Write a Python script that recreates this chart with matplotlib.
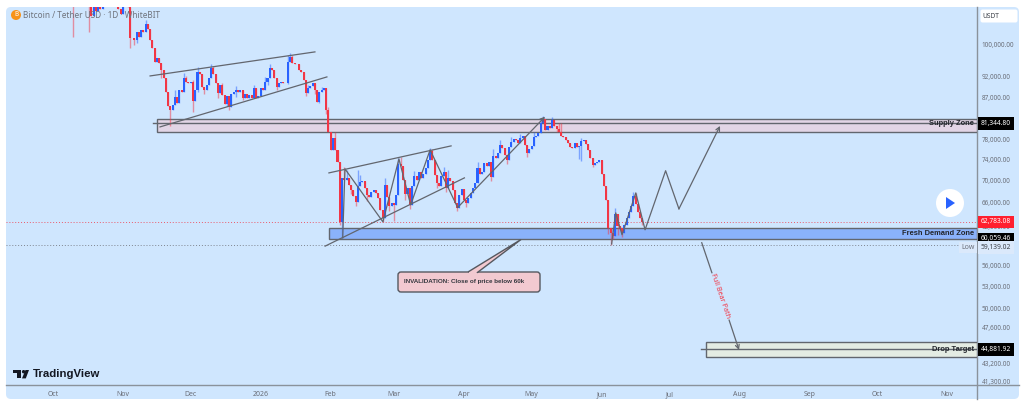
import numpy as np
import matplotlib as mpl
mpl.use('Agg')
import matplotlib.pyplot as plt
from matplotlib.patches import Circle, FancyBboxPatch, Polygon, Rectangle

plt.rcParams['font.family'] = ['Noto Sans', 'DejaVu Sans']

# daily closes in thousands of USDT, first candle is 10 Oct 2025
first_day = 9
first_open = 113.0
closes = [
    112.0, 111.5, 113.0, 112.0, 115.0, 116.0, 113.0, 111.0, 108.0, 110.5,
    109.5, 112.0, 110.0, 113.0, 113.0, 114.0, 116.0, 113.0, 115.0, 112.0,
    110.0, 108.5, 111.0, 111.0, 110.5, 101.9, 101.9, 101.3, 103.5, 102.2,
    104.0, 103.5, 105.7, 104.3, 101.3, 99.2, 95.6, 96.6, 95.4, 93.6,
    91.7, 88.4, 85.2, 84.3, 85.4, 87.2, 85.9, 88.8, 88.4, 91.7,
    90.7, 90.5, 90.7, 86.3, 88.8, 93.2, 92.7, 89.5, 88.8, 90.0,
    91.7, 94.1, 92.7, 90.5, 88.1, 90.0, 87.7, 85.6, 87.5, 85.0,
    87.9, 88.4, 88.8, 88.4, 88.9, 87.0, 87.9, 87.0, 87.7, 87.0,
    89.3, 87.0, 87.5, 89.3, 88.8, 90.7, 91.7, 94.1, 93.6, 91.7,
    89.5, 90.5, 90.7, 90.6, 90.5, 95.6, 96.9, 95.4, 95.2, 95.1,
    93.6, 93.2, 91.2, 88.1, 89.3, 89.8, 90.5, 88.8, 86.1, 88.4,
    88.8, 89.3, 84.3, 79.6, 75.9, 78.3, 75.9, 73.5, 62.8, 70.5,
    70.1, 70.5, 69.2, 68.3, 67.2, 66.2, 69.0, 69.8, 70.0, 68.7,
    67.4, 67.1, 67.9, 68.3, 67.8, 66.9, 64.8, 63.4, 69.2, 67.1,
    65.5, 66.0, 65.6, 67.4, 73.1, 72.8, 70.1, 67.6, 68.7, 65.6,
    69.0, 70.9, 70.1, 71.6, 70.5, 71.2, 72.4, 73.9, 75.7, 73.9,
    71.0, 69.6, 69.0, 70.9, 71.6, 68.7, 70.5, 70.0, 68.3, 66.0,
    65.1, 67.4, 68.5, 66.5, 66.0, 66.9, 67.8, 68.7, 69.6, 72.4,
    71.2, 71.6, 73.3, 72.8, 73.5, 70.7, 74.7, 74.3, 75.3, 76.9,
    76.3, 74.9, 73.9, 76.5, 77.5, 78.1, 77.9, 77.3, 78.3, 78.7,
    76.9, 75.3, 76.1, 76.7, 78.5, 78.7, 79.3, 81.5, 82.3, 80.0,
    80.9, 80.3, 82.1, 80.7, 80.2, 79.6, 78.7, 78.5, 77.9, 77.3,
    76.5, 76.3, 77.3, 76.5, 76.7, 77.7, 77.9, 77.1, 75.9, 74.3,
    72.9, 73.3, 73.5, 73.9, 71.2, 69.0, 66.5, 61.8, 61.0, 60.5,
    64.1, 62.1, 61.8, 60.9, 62.3, 63.5, 64.5, 65.5, 67.2, 65.8,
    64.5, 63.4, 62.78308,
]
# the wicks that stick out, day -> price
wick_high = {
    13: 118, 16: 114, 25: 118, 33: 114, 34: 110.5, 41: 106.8, 47: 96.6, 54: 88.8, 58: 93.0,
    59: 92.2, 62: 91.2, 64: 94.4, 70: 95.0, 71: 94.5, 75: 90.5, 81: 89.8, 89: 90.0, 94: 92.0,
    96: 95.0, 104: 97.4, 105: 97.9, 106: 97.4, 113: 90.0, 119: 89.5, 122: 85.0, 125: 79.5,
    129: 72.5, 130: 72.0, 135: 72.0, 136: 71.0, 147: 70.5, 153: 74.2, 154: 74.5, 160: 71.8,
    167: 76.2, 168: 76.0, 173: 72.6, 175: 72.0, 188: 73.5, 195: 76.0, 198: 77.8, 203: 78.5,
    207: 79.2, 213: 79.5, 216: 82.4, 217: 83.0, 221: 82.8, 224: 81.5, 225: 81.5, 234: 78.2,
    249: 65.2, 257: 68.0, 258: 67.8,
}
wick_low = {
    9: 102.2, 16: 103.5, 34: 99.2, 36: 100.0, 37: 100.5, 48: 91.7, 52: 80.8, 53: 84.5, 62: 83.9,
    64: 88.4, 67: 87.9, 73: 87.0, 77: 85.2, 78: 84.3, 81: 87.3, 84: 86.5, 95: 89.9, 99: 88.8,
    104: 90.3, 112: 87.5, 116: 87.9, 118: 85.8, 121: 83.5, 127: 62.2, 128: 60.2, 132: 67.5,
    134: 65.4, 139: 66.4, 146: 62.8, 149: 64.6, 151: 63.0, 156: 66.5, 158: 64.9, 170: 68.7,
    174: 68.0, 179: 64.6, 183: 65.3, 194: 70.0, 201: 73.2, 210: 74.5, 223: 79.6, 233: 74.0,
    234: 73.7, 239: 72.5, 246: 60.8, 247: 59.13902, 248: 60.0, 250: 60.7, 252: 60.4, 261: 62.3,
}

price_ticks = [100000, 92000, 87000, 82000, 78000, 74000, 70000, 66000, 62000,
               56000, 53000, 50000, 47600, 45300, 43200, 41300]
month_days = [0, 31, 61, 92, 123, 151, 182, 212, 243, 273, 304, 335, 365, 396]
month_labels = ["Oct", "Nov", "Dec", "2026", "Feb", "Mar", "Apr", "May", "Jun", "Jul", "Aug", "Sep", "Oct", "Nov"]

supply_line = 81344.80
demand_line = 60059.46
drop_line = 44881.92
last_price = closes[-1] * 1000
low_price = 59139.02

# drawings: days and prices of each trend line and path
wedge_lines = [
    ([43.0, 116.0], [92180, 98200]),
    ([47.4, 121.3], [80610, 91940]),
    ([122.2, 176.3], [71420, 76680]),
    ([120.5, 182.2], [58900, 70490]),
]
swing_days = [128.3, 129.3, 146.1, 153.2, 158.4, 167.0, 179.2, 217.9]
swing_prices = [60210, 72180, 62790, 74100, 65650, 75880, 65200, 82810]
bull_days = [247.4, 249.2, 252.0, 258.1, 262.2, 271.3, 277.2, 295.4]
bull_prices = [59240, 64290, 60690, 67760, 61490, 71830, 64970, 80820]
bear_days = [287.3, 291.8, 299.4, 303.8]
bear_prices = [59430, 54920, 48500, 44820]

PANEL = "#cfe6fe"
RED = "#f23645"
BLUE = "#2962ff"
LINE = "#62666e"
TEXT = "#6a6e78"
BOLD = "Liberation Sans"


def fig_ax(fig):
    # whole-figure axes counted in pixels, y going down
    a = fig.add_axes([0, 0, 1, 1], facecolor = "none")
    a.set_xlim(0, 1024)
    a.set_ylim(404, 0)
    a.axis("off")
    return a


def price_tag(ax, price, bg, fg = "white", dy = 0):
    ax.annotate(f"{price:,.2f}", xy = (1.0041, price), xycoords = ax.get_yaxis_transform(),
                xytext = (0, dy), textcoords = "offset points", ha = "left", va = "center",
                fontsize = 4.8, color = fg, zorder = 8,
                bbox = dict(boxstyle = "square,pad=0.4", fc = bg, ec = "none"))


def zone(ax, start, top, bottom, color, line = None, line_start = None):
    end = ax.get_xlim()[1]
    ax.add_patch(Rectangle((start, bottom), end - start, top - bottom, fc = color,
                           ec = LINE, lw = 1, zorder = 1))
    if line is not None:
        ax.plot([line_start, end], [line, line], color = LINE, lw = 1, zorder = 1.5)


def path_arrow(ax, xs, ys):
    ax.annotate("", xy = (xs[-1], ys[-1]), xytext = (xs[-2], ys[-2]),
                arrowprops = dict(arrowstyle = "->", color = LINE, lw = 0.9, shrinkA = 0, shrinkB = 0,
                                  mutation_scale = 7), zorder = 3)


fig = plt.figure(figsize = (10.24, 4.04), dpi = 100, facecolor = "white")

back = fig_ax(fig)
back.add_patch(FancyBboxPatch((9, 10), 1007, 386, boxstyle = "round,pad=3,rounding_size=5",
                              fc = PANEL, ec = "none"))
back.plot([977, 977], [7, 399], color = "#8a929b", lw = 1)
back.plot([6, 1019], [385, 385], color = "#8a929b", lw = 1)

ax = fig.add_axes([6 / 1024, (404 - 385) / 404, 971 / 1024, 378 / 404], facecolor = "none")
ax.set_yscale("log")
ax.set_xlim(-20.81, 409.2)
ax.set_ylim(40870, 110517)

# candles
closes_k = np.array(closes)
opens_k = np.concatenate(([first_open], closes_k[:-1]))
days = np.arange(first_day, first_day + len(closes_k))
highs_k = np.maximum(opens_k, closes_k)
lows_k = np.minimum(opens_k, closes_k)
for d, v in wick_high.items():
    highs_k[d - first_day] = max(v, highs_k[d - first_day])
for d, v in wick_low.items():
    lows_k[d - first_day] = min(v, lows_k[d - first_day])
colors = [BLUE if c >= o else RED for o, c in zip(opens_k, closes_k)]

ax.vlines(days, lows_k * 1000, highs_k * 1000, colors = colors, lw = 1, alpha = 0.5, zorder = 2)
ax.bar(days, np.abs(closes_k - opens_k) * 1000, bottom = np.minimum(opens_k, closes_k) * 1000,
       width = 0.9, color = colors, lw = 0, zorder = 2.2)

# zones
zone(ax, 46.1, 82300, 79600, "#e2d5e6", supply_line, 44.3)
zone(ax, 122.2, 61860, demand_line, "#8ab2fb")
zone(ax, 289.2, 45770, 44030, "#e4ece3", drop_line, 287.0)

# price lines
ax.axhline(last_price, color = RED, lw = 0.7, ls = (0, (1, 2)), alpha = 0.8, zorder = 1.2)
ax.axhline(low_price, color = "#7f8590", lw = 0.7, ls = (0, (1, 2)), zorder = 1.2)

# trend lines and paths
for xs, ys in wedge_lines:
    ax.plot(xs, ys, color = LINE, lw = 0.9, zorder = 3)
ax.plot(swing_days[:-1], swing_prices[:-1], color = LINE, lw = 0.9, zorder = 3)
path_arrow(ax, swing_days, swing_prices)
ax.plot(bull_days[:-1], bull_prices[:-1], color = LINE, lw = 0.9, zorder = 3)
path_arrow(ax, bull_days, bull_prices)
ax.plot(bear_days[:2], bear_prices[:2], color = LINE, lw = 0.9, zorder = 3)
path_arrow(ax, bear_days, bear_prices)
ax.text(295.4, 51660, "Full Bear Path", color = RED, fontsize = 5.2, rotation = -71,
        ha = "center", va = "center", rotation_mode = "anchor", zorder = 4)

# zone labels sit at the right edge of each band
for price, label in [(supply_line, "Supply Zone"), (60900, "Fresh Demand Zone"), (drop_line, "Drop Target")]:
    ax.text(0.9972, price, label, transform = ax.get_yaxis_transform(), ha = "right", va = "center",
            fontsize = 5.4, fontweight = "bold", family = BOLD, color = "#22252b", zorder = 5)

# axes
ax.yaxis.tick_right()
ax.set_yticks(price_ticks, [f"{p:,.2f}" for p in price_ticks])
ax.minorticks_off()
ax.set_xticks(month_days, month_labels)
ax.tick_params(axis = "y", length = 0, pad = 3.5, labelsize = 4.6, labelcolor = TEXT)
ax.tick_params(axis = "x", length = 0, pad = 4.5, labelsize = 5, labelcolor = TEXT)
for side in ax.spines:
    ax.spines[side].set_visible(False)

price_tag(ax, supply_line, "black")
price_tag(ax, last_price, "#ff1f2f")
price_tag(ax, demand_line, "black")
price_tag(ax, drop_line, "black")
price_tag(ax, low_price, "#dbe9fb", fg = "#3c4048", dy = -2.2)
ax.annotate("Low", xy = (0.9975, low_price), xycoords = ax.get_yaxis_transform(), xytext = (0, -2.2),
            textcoords = "offset points", ha = "right", va = "center", fontsize = 5, color = TEXT,
            bbox = dict(boxstyle = "square,pad=0.3", fc = "#dbe9fb", ec = "none"), zorder = 8)

top = fig_ax(fig)

# title
top.add_patch(Circle((16, 15), 5, fc = "#f7931a", ec = "none"))
top.text(16, 15, "B", color = "white", fontsize = 4.5, ha = "center", va = "center", fontweight = "bold")
top.text(23, 15, "Bitcoin / Tether USD · 1D · WhiteBIT", color = "#6f737c", fontsize = 5.9, va = "center")

# currency box
top.add_patch(FancyBboxPatch((981, 10), 36, 12, boxstyle = "round,pad=0.5,rounding_size=2", fc = "white", ec = "none"))
top.text(982, 16, "USDT", color = "#3c4048", fontsize = 4.8, va = "center")

# play button
top.add_patch(Circle((950, 203), 14, fc = "white", ec = "none"))
top.add_patch(Polygon([(946, 197), (946, 209), (955, 203)], closed = True, fc = BLUE, ec = "none"))

# logo
top.add_patch(Polygon([(12.5, 370), (21, 370), (21, 378.4), (16.5, 378.4), (16.5, 373.4), (12.5, 373.4)],
                      closed = True, fc = "#131722", ec = "none"))
top.add_patch(Circle((23.6, 371.7), 1.7, fc = "#131722", ec = "none"))
top.add_patch(Polygon([(25.5, 370), (29, 370), (25.8, 378.4), (22, 378.4)], closed = True, fc = "#131722", ec = "none"))
top.text(33, 374.4, "TradingView", color = "#131722", fontsize = 8.2, fontweight = "bold", family = BOLD, va = "center")

# invalidation callout
top.add_patch(FancyBboxPatch((400, 274), 138, 16, boxstyle = "round,pad=2,rounding_size=3",
                             fc = "#f2c9d0", ec = "#55585f", lw = 1, zorder = 3))
top.add_patch(Polygon([(468, 272), (521, 239.5), (477, 272.8)], closed = False, fc = "#f2c9d0", ec = "#55585f", lw = 1, zorder = 4))
top.add_patch(Polygon([(468.8, 272), (476.4, 272), (476.4, 273.4), (468.8, 273.4)], closed = True, fc = "#f2c9d0", ec = "none", zorder = 5))
top.text(404, 282, "INVALIDATION: Close of price below 60k", color = "#33363d", fontsize = 4.5,
         fontweight = "bold", family = BOLD, va = "center", zorder = 6)

fig.savefig("out.png", dpi = 100)
plt.close()
